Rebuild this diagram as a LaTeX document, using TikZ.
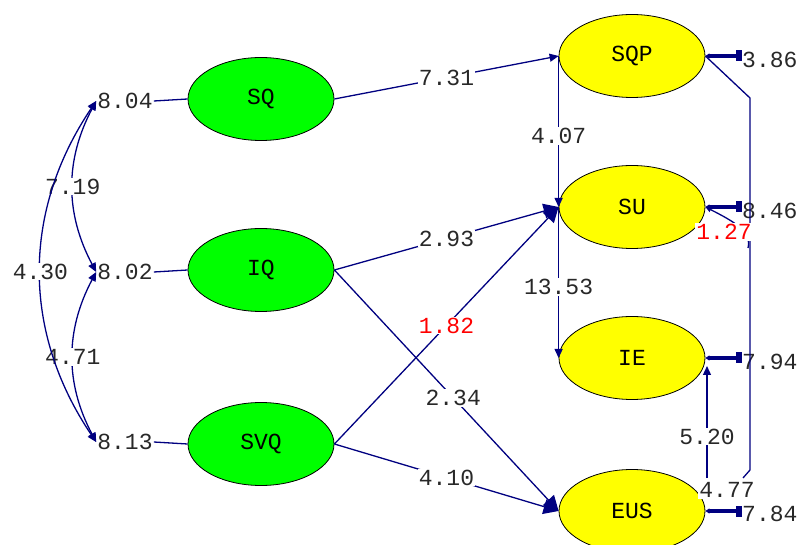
\documentclass[tikz,border=0pt]{standalone}
\usepackage{fontspec}
\setmainfont{Liberation Mono}
\usepackage{xcolor}
\usetikzlibrary{calc}
\usetikzlibrary{shapes.geometric}
\usetikzlibrary{arrows.meta}
\definecolor{pathblue}{RGB}{0,0,128}
\definecolor{latgreen}{RGB}{0,255,0}
\definecolor{latyellow}{RGB}{255,255,0}
\definecolor{valgray}{RGB}{40,40,40}
\tikzset{>=latex,
	lat/.style={ellipse, draw=black, line width=0.8pt, minimum width=146pt,
		minimum height=83pt, inner sep=0pt, font=\fontsize{23}{23}\selectfont},
	val/.style={fill=white, inner sep=1pt, text=valgray,
		font=\fontsize{23}{23}\selectfont},
	errval/.style={inner sep=0pt, anchor=west, text=valgray,
		font=\fontsize{23}{23}\selectfont},
	conn/.style={draw=pathblue, line width=1.3pt},
	bighead/.style={-{Triangle[length=15pt,width=15pt]}},
	smallhead/.style={-{Triangle[length=9pt,width=8pt]}},
	dblhead/.style={{Triangle[length=9pt,width=8pt]}-{Triangle[length=9pt,width=8pt]}},
	errhead/.style={line width=3.5pt, {Square[length=6pt,width=11pt]}-{Triangle[length=4pt,width=5pt]}}
}
\begin{document}
\begin{tikzpicture}[x=1pt, y=-1pt]

	\useasboundingbox (0,0) rectangle (801,545);

	\pgfmathsetmacro{\xl}{261}
	\pgfmathsetmacro{\xr}{632}

	% Latenti esogene
	\node[lat, fill=latgreen] (SQ) at (\xl,99) {SQ};
	\node[lat, fill=latgreen] (IQ) at (\xl,270) {IQ};
	\node[lat, fill=latgreen] (SVQ) at (\xl,444) {SVQ};

	% Latenti endogene
	\node[lat, fill=latyellow] (SQP) at (\xr,56) {SQP};
	\node[lat, fill=latyellow] (SU) at (\xr,207) {SU};
	\node[lat, fill=latyellow] (IE) at (\xr,358) {IE};
	\node[lat, fill=latyellow] (EUS) at (\xr,511) {EUS};

	%% Varianze
	\node[val, fill=none] (vSQ) at (125,101) {8.04};
	\node[val, fill=none] (vIQ) at (125,272) {8.02};
	\node[val, fill=none] (vSVQ) at (125,442) {8.13};
	\draw[conn] (vSQ.east) -- (SQ.west);
	\draw[conn] (vIQ.east) -- (IQ.west);
	\draw[conn] (vSVQ.east) -- (SVQ.west);

	% Covarianze
	\draw[conn, dblhead] (vSQ.west) to[bend right=28] node[val] {7.19} (vIQ.west);
	\draw[conn, dblhead] (vIQ.west) to[bend right=28] node[val] {4.71} (vSVQ.west);
	\draw[conn, dblhead] (vSQ.west) to[bend right=34] node[val] {4.30} (vSVQ.west);

	%% Percorsi
	\draw[conn, smallhead] (SQ.east) -- (SQP.west) node[val, midway] {7.31};
	\draw[conn, bighead] (IQ.east) -- (EUS.west) node[val, pos=0.53] {2.34};
	\draw[conn, bighead] (SVQ.east) -- (SU.west) node[val, pos=0.5, text=red] {1.82};
	\draw[conn, bighead] (IQ.east) -- (SU.west) node[val, midway] {2.93};
	\draw[conn, bighead] (SVQ.east) -- (EUS.west) node[val, midway] {4.10};
	\draw[conn, smallhead] (SQP.west) -- (SU.west) node[val, pos=0.53] {4.07};
	\draw[conn, smallhead] (SU.west) -- (IE.west) node[val, pos=0.53] {13.53};

	\coordinate (b520) at (707,478);
	\coordinate (t520) at (707,366);
	\draw[conn, smallhead] (b520) -- (t520) node[val, pos=0.37] {5.20};

	%% Errori
	\node[errval] (eSQP) at (742,60) {3.86};
	\node[errval] (eSU) at (742,211) {8.46};
	\node[errval] (eIE) at (742,362) {7.94};
	\node[errval] (eEUS) at (742,514) {7.84};

	% Covarianze errori
	\coordinate (k1) at (750,98);
	\coordinate (k2) at (750,470);
	\coordinate (k3) at (743,478);
	\draw[conn] (SQP.east) -- (k1) -- (k2) -- (k3);
	\node[val] (c477) at (727,490) {4.77};

	\draw[conn, {Triangle[length=6pt,width=5pt]}-] (SU.east)
		.. controls (735,222) and (752,232) .. (748,248);
	\node[val, text=red] (c127) at (724,232) {1.27};

	\draw[conn, errhead] (eSQP.west |- SQP.east) -- (SQP.east);
	\draw[conn, errhead] (eSU.west |- SU.east) -- (SU.east);
	\draw[conn, errhead] (eIE.west |- IE.east) -- (IE.east);
	\draw[conn, errhead] (eEUS.west |- EUS.east) -- (EUS.east);

\end{tikzpicture}
\end{document}
